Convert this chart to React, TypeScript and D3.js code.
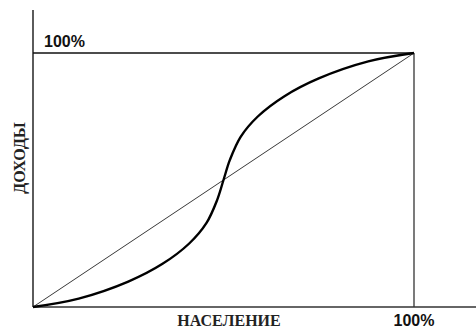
import React from "react";
import * as d3 from "d3";

const population = [0, 0.12, 0.25, 0.34, 0.41, 0.455, 0.483, 0.5, 0.517, 0.545, 0.59, 0.66, 0.75, 0.88, 1];
const income = [0, 0.033, 0.1, 0.17, 0.25, 0.33, 0.42, 0.5, 0.58, 0.67, 0.75, 0.83, 0.9, 0.967, 1];
const equality = [0, 1];
const xLabel = "НАСЕЛЕНИЕ";
const yLabel = "ДОХОДЫ";
const maxLabel = "100%";

export default function App() {
  const W = 476, H = 328;
  const x = d3.scaleLinear().domain([0, 1]).range([33, 414]);
  const y = d3.scaleLinear().domain([0, 1]).range([307, 53]);
  const pts: [number, number][] = population.map((p, i) => [p, income[i]]);
  const curve = d3.line<[number, number]>().x(d => x(d[0])).y(d => y(d[1])).curve(d3.curveCatmullRom.alpha(0.5))(pts) || "";
  const diag = d3.line<number>().x(d => x(d)).y(d => y(d))(equality) || "";
  const sans = "'Liberation Sans', Arial, sans-serif";
  const serif = "'Liberation Serif', 'Times New Roman', serif";
  return (
    <svg width={W} height={H} style={{ position: "absolute", left: 0, top: 0, background: "#fff" }}>
      <line x1={x(0)} y1={10} x2={x(0)} y2={y(0)} stroke="#333" strokeWidth={1.6} />
      <line x1={x(0)} y1={y(0)} x2={W} y2={y(0)} stroke="#333" strokeWidth={1.6} />
      <line x1={x(0)} y1={y(1)} x2={x(1)} y2={y(1)} stroke="#111" strokeWidth={1.5} />
      <line x1={x(1)} y1={y(1)} x2={x(1)} y2={y(0)} stroke="#333" strokeWidth={1.3} />
      <path d={diag} fill="none" stroke="#222" strokeWidth={0.9} />
      <path d={curve} fill="none" stroke="#000" strokeWidth={2.4} />
      <text x={44} y={47} fontFamily={sans} fontWeight="bold" fontSize={16} fill="#111">{maxLabel}</text>
      <text x={x(1)} y={326} textAnchor="middle" fontFamily={sans} fontWeight="bold" fontSize={16} fill="#111">{maxLabel}</text>
      <text x={229} y={326} textAnchor="middle" fontFamily={serif} fontWeight="bold" fontSize={16} fill="#222">{xLabel}</text>
      <text transform={`translate(25,158) rotate(-90)`} textAnchor="middle" fontFamily={serif} fontWeight="bold" fontSize={16} fill="#222">{yLabel}</text>
    </svg>
  );
}
